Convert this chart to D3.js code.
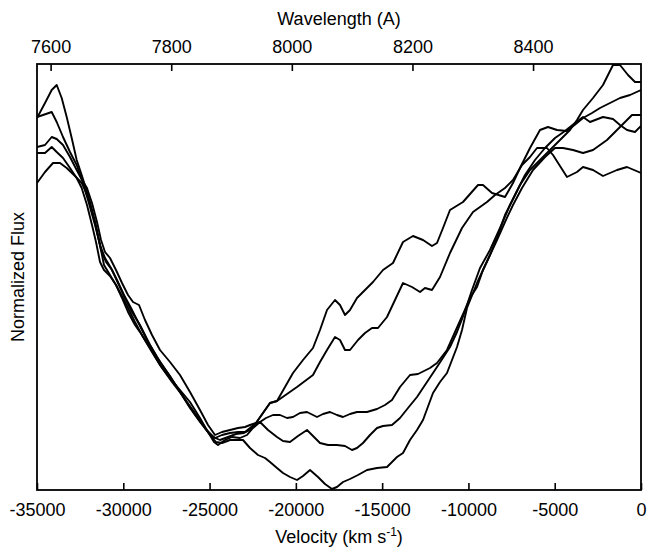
<!DOCTYPE html>
<html>
<head>
<meta charset="utf-8">
<script src="https://cdn.jsdelivr.net/npm/d3@7"></script>
<style>
  body { margin: 0; background: #fff; }
  svg text { font-family: "Liberation Sans", Arial, Helvetica, sans-serif; fill: #000; }
</style>
</head>
<body>
<svg id="chart" width="647" height="549"></svg>
<script>
// axis ticks
const velocityTicks = [-35000, -30000, -25000, -20000, -15000, -10000, -5000, 0];
const wavelengthTicks = [7600, 7800, 8000, 8200, 8400];
const restWavelength = 8579;   // Ca II IR triplet, A
const lightSpeed = 299792;     // km/s

// spectra: [velocity km/s, normalized flux]
const spec1 = [[-35000,1.044],[-34536,1.074],[-34148,1.100],[-33858,1.110],[-33569,1.084],[-33279,1.046],[-32989,1.004],[-32700,0.960],[-32410,0.930],[-32045,0.890],[-31639,0.836],[-31291,0.780],[-31002,0.756],[-30654,0.740],[-30306,0.714],[-29901,0.684],[-29495,0.656],[-29032,0.630],[-28452,0.590],[-27873,0.556],[-27293,0.528],[-26714,0.496],[-26134,0.464],[-25555,0.436],[-25091,0.416],[-24685,0.404],[-24280,0.410],[-23816,0.414],[-23353,0.416],[-22947,0.416],[-22657,0.424],[-22310,0.434],[-21904,0.454],[-21498,0.474],[-21093,0.478],[-20629,0.506],[-20166,0.534],[-19586,0.560],[-19007,0.584],[-18601,0.620],[-18195,0.660],[-17732,0.680],[-17442,0.670],[-17152,0.650],[-16863,0.660],[-16457,0.684],[-15993,0.700],[-15530,0.716],[-14950,0.740],[-14371,0.754],[-13791,0.796],[-13212,0.808],[-12632,0.800],[-12111,0.788],[-11821,0.794],[-11473,0.824],[-11068,0.860],[-10315,0.876],[-9445,0.910],[-9156,0.910],[-8634,0.894],[-7881,0.886],[-7417,0.914],[-7011,0.944],[-6432,0.984],[-5853,1.020],[-5389,1.026],[-4868,1.020],[-4288,1.018],[-3709,1.034],[-3361,1.044],[-2839,1.054],[-2376,1.064],[-1796,1.074],[-1217,1.084],[-637,1.090],[0,1.100]];

const spec2 = [[-35000,1.046],[-34652,1.050],[-34148,1.056],[-33858,1.036],[-33493,1.006],[-33088,0.976],[-32700,0.950],[-32392,0.920],[-32045,0.880],[-31639,0.830],[-31349,0.790],[-31060,0.764],[-30712,0.744],[-30364,0.720],[-29959,0.690],[-29553,0.664],[-29147,0.636],[-28626,0.600],[-28046,0.566],[-27467,0.536],[-26887,0.506],[-26308,0.476],[-25728,0.448],[-25265,0.424],[-24801,0.406],[-24396,0.400],[-23932,0.406],[-23468,0.412],[-23005,0.414],[-22657,0.420],[-22310,0.434],[-21904,0.454],[-21498,0.474],[-21093,0.478],[-20513,0.492],[-19934,0.506],[-19470,0.518],[-19007,0.530],[-18601,0.556],[-18195,0.580],[-17732,0.606],[-17442,0.600],[-17152,0.580],[-16863,0.580],[-16399,0.600],[-15993,0.614],[-15588,0.624],[-15240,0.624],[-14718,0.646],[-14255,0.680],[-13791,0.714],[-13270,0.706],[-12806,0.696],[-12517,0.704],[-12111,0.700],[-11647,0.726],[-11068,0.774],[-10372,0.824],[-9735,0.856],[-8924,0.876],[-8460,0.890],[-7881,0.904],[-7417,0.920],[-6896,0.950],[-6432,0.966],[-6026,0.984],[-5447,0.984],[-5099,0.970],[-4694,0.948],[-4288,0.926],[-3709,0.936],[-3361,0.946],[-2781,0.940],[-2202,0.928],[-1391,0.940],[-811,0.946],[0,0.934]];

const spec3 = [[-35000,0.986],[-34536,0.990],[-34148,1.006],[-33858,1.002],[-33493,0.990],[-33088,0.966],[-32700,0.940],[-32392,0.920],[-32103,0.904],[-31813,0.874],[-31523,0.836],[-31291,0.800],[-31060,0.776],[-30770,0.764],[-30422,0.740],[-30074,0.714],[-29727,0.690],[-29437,0.676],[-29089,0.670],[-28742,0.640],[-28336,0.610],[-27873,0.580],[-27293,0.556],[-26714,0.530],[-26134,0.496],[-25555,0.460],[-25091,0.430],[-24685,0.410],[-24280,0.416],[-23816,0.420],[-23353,0.424],[-22947,0.426],[-22657,0.430],[-22310,0.434],[-22078,0.436],[-21730,0.444],[-21324,0.450],[-20919,0.450],[-20513,0.444],[-20166,0.446],[-19760,0.454],[-19354,0.456],[-18775,0.446],[-18427,0.452],[-18021,0.456],[-17616,0.450],[-17268,0.446],[-16863,0.452],[-16457,0.456],[-15877,0.456],[-15298,0.462],[-14834,0.470],[-14429,0.480],[-13965,0.506],[-13386,0.530],[-12922,0.532],[-12227,0.544],[-11821,0.554],[-11242,0.580],[-10778,0.616],[-10257,0.656],[-9909,0.684],[-9503,0.706],[-9156,0.740],[-8750,0.770],[-8344,0.800],[-7881,0.836],[-7417,0.870],[-6896,0.904],[-6258,0.940],[-5563,0.966],[-4983,0.984],[-4520,0.984],[-3940,0.980],[-3361,0.974],[-2781,0.980],[-1970,1.000],[-1391,1.020],[-927,1.036],[-521,1.050],[0,1.050]];

const spec4 = [[-35000,0.974],[-34536,0.974],[-34148,0.986],[-33858,0.976],[-33493,0.964],[-33088,0.944],[-32700,0.924],[-32410,0.904],[-32103,0.870],[-31813,0.830],[-31581,0.796],[-31349,0.756],[-31118,0.740],[-30770,0.728],[-30422,0.710],[-30074,0.684],[-29727,0.656],[-29321,0.630],[-28916,0.610],[-28452,0.584],[-27873,0.550],[-27293,0.524],[-26714,0.500],[-26134,0.476],[-25555,0.444],[-25091,0.416],[-24743,0.396],[-24512,0.390],[-24106,0.400],[-23700,0.406],[-23237,0.404],[-22831,0.410],[-22483,0.424],[-22078,0.436],[-21614,0.420],[-21093,0.406],[-20745,0.398],[-20339,0.396],[-19876,0.408],[-19354,0.420],[-18949,0.406],[-18601,0.394],[-18137,0.390],[-17616,0.390],[-17152,0.388],[-16747,0.380],[-16457,0.384],[-16109,0.394],[-15704,0.410],[-15298,0.424],[-14950,0.428],[-14429,0.430],[-13965,0.444],[-13502,0.464],[-12980,0.486],[-12401,0.516],[-11821,0.546],[-11068,0.586],[-10662,0.616],[-10257,0.652],[-9793,0.700],[-9329,0.744],[-8750,0.780],[-8170,0.824],[-7591,0.870],[-7011,0.910],[-6432,0.940],[-5853,0.960],[-5273,0.980],[-4694,1.000],[-4114,1.020],[-3709,1.040],[-3361,1.060],[-2781,1.084],[-2202,1.110],[-1622,1.150],[-1217,1.150],[-753,1.130],[-348,1.116],[0,1.116]];

const spec5 = [[-35000,0.914],[-34536,0.936],[-34073,0.954],[-33667,0.954],[-33279,0.944],[-32798,0.928],[-32410,0.914],[-32218,0.900],[-31929,0.874],[-31639,0.836],[-31349,0.790],[-31118,0.750],[-30770,0.730],[-30422,0.710],[-30074,0.688],[-29727,0.664],[-29321,0.636],[-28858,0.606],[-28336,0.576],[-27757,0.544],[-27177,0.516],[-26598,0.490],[-26018,0.460],[-25439,0.432],[-24975,0.410],[-24627,0.396],[-24280,0.394],[-23816,0.400],[-23411,0.400],[-23063,0.400],[-22657,0.384],[-22194,0.370],[-21788,0.364],[-21498,0.356],[-21093,0.344],[-20745,0.334],[-20339,0.326],[-19934,0.320],[-19586,0.328],[-19180,0.340],[-18717,0.326],[-18311,0.312],[-17906,0.302],[-17616,0.306],[-17268,0.316],[-16863,0.322],[-16399,0.330],[-15877,0.340],[-15298,0.344],[-14718,0.346],[-14139,0.366],[-13791,0.374],[-13386,0.400],[-12980,0.420],[-12632,0.440],[-12053,0.494],[-11647,0.516],[-11242,0.534],[-10952,0.560],[-10662,0.586],[-10372,0.620],[-10083,0.664],[-9503,0.714],[-9156,0.740],[-8750,0.770],[-8344,0.804],[-7881,0.850],[-7301,0.890],[-6722,0.930],[-6142,0.960],[-5563,0.984],[-4983,1.004],[-4404,1.018],[-3824,1.034],[-3361,1.046],[-2955,1.036],[-2202,1.046],[-1622,1.042],[-1217,1.030],[-811,1.020],[-348,1.016],[0,1.028]];

const spectra = [spec1, spec2, spec3, spec4, spec5];

const svg = d3.select("#chart");
const plotLeft = 37, plotRight = 641, plotTop = 64, plotBottom = 490;

const x = d3.scaleLinear().domain([-35000, 0]).range([plotLeft, plotRight]);
const y = d3.scaleLinear().domain([0.3, 1.152]).range([plotBottom, plotTop]);
// top axis: wavelength of the same velocity grid
const xTop = d3.scaleLinear()
  .domain(x.domain().map(v => restWavelength * (1 + v / lightSpeed)))
  .range(x.range());

svg.append("clipPath").attr("id", "plot-clip")
  .append("rect")
  .attr("x", plotLeft).attr("y", plotTop)
  .attr("width", plotRight - plotLeft).attr("height", plotBottom - plotTop);

const line = d3.line()
  .x(d => x(d[0]))
  .y(d => y(d[1]));

svg.append("g")
  .attr("clip-path", "url(#plot-clip)")
  .selectAll("path")
  .data(spectra)
  .enter()
  .append("path")
  .attr("d", line)
  .attr("fill", "none")
  .attr("stroke", "#000")
  .attr("stroke-width", 1.9)
  .attr("stroke-linejoin", "round");

// bottom axis, plain hyphen for the minus sign
const xAxis = svg.append("g")
  .attr("transform", `translate(0,${plotBottom})`)
  .call(d3.axisBottom(x).tickValues(velocityTicks).tickFormat(d => String(d))
    .tickSizeInner(-7).tickSizeOuter(0).tickPadding(13));

// top axis
const topAxis = svg.append("g")
  .attr("transform", `translate(0,${plotTop})`)
  .call(d3.axisTop(xTop).tickValues(wavelengthTicks).tickFormat(d => String(d))
    .tickSizeInner(-7).tickSizeOuter(0).tickPadding(11));

[xAxis, topAxis].forEach(g => {
  g.select(".domain").remove();
  g.selectAll(".tick line").attr("stroke", "#000").attr("stroke-width", 1.6);
  g.selectAll(".tick text")
    .attr("fill", "#000")
    .style("font-size", "18px")
    .style("font-family", "'Liberation Sans', Arial, sans-serif");
});

// frame
svg.append("rect")
  .attr("x", plotLeft).attr("y", plotTop)
  .attr("width", plotRight - plotLeft).attr("height", plotBottom - plotTop)
  .attr("fill", "none")
  .attr("stroke", "#000")
  .attr("stroke-width", 1.8);

// axis titles
svg.append("text")
  .attr("x", (plotLeft + plotRight) / 2)
  .attr("y", 25)
  .attr("text-anchor", "middle")
  .style("font-size", "18px")
  .text("Wavelength (A)");

const vTitle = svg.append("text")
  .attr("x", (plotLeft + plotRight) / 2)
  .attr("y", 543)
  .attr("text-anchor", "middle")
  .style("font-size", "18px");
vTitle.append("tspan").text("Velocity (km s");
vTitle.append("tspan").attr("dy", -7).style("font-size", "12px").text("-1");
vTitle.append("tspan").attr("dy", 7).text(")");

svg.append("text")
  .attr("transform", `translate(24,${(plotTop + plotBottom) / 2}) rotate(-90)`)
  .attr("text-anchor", "middle")
  .style("font-size", "18px")
  .text("Normalized Flux");
</script>
</body>
</html>
